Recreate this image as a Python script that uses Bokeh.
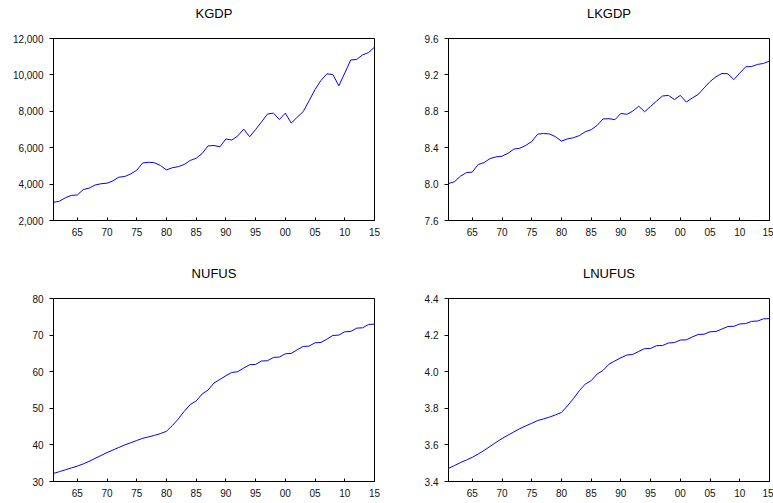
from bokeh.plotting import figure
from bokeh.layouts import gridplot
from bokeh.models import Range1d, FixedTicker, NumeralTickFormatter, LinearAxis
from bokeh.embed import file_html
from bokeh.resources import INLINE

years = list(range(1961, 2016))

kgdp = [3000, 3060, 3250, 3380, 3400, 3700, 3780, 3950, 4020, 4050,
        4180, 4380, 4420, 4560, 4760, 5160, 5200, 5170, 5020, 4780,
        4900, 4960, 5080, 5300, 5420, 5680, 6100, 6120, 6050, 6480,
        6420, 6650, 7020, 6600, 7000, 7420, 7850, 7900, 7550, 7900,
        7350, 7680, 7980, 8580, 9200, 9700, 10060, 10020, 9400, 10100,
        10820, 10850, 11100, 11230, 11520]

lkgdp = [8.006, 8.026, 8.086, 8.126, 8.132, 8.216, 8.237, 8.281, 8.299, 8.306,
         8.338, 8.385, 8.394, 8.425, 8.468, 8.549, 8.556, 8.551, 8.521, 8.472,
         8.497, 8.509, 8.533, 8.575, 8.598, 8.645, 8.716, 8.719, 8.708, 8.777,
         8.767, 8.802, 8.856, 8.795, 8.854, 8.912, 8.968, 8.975, 8.929, 8.975,
         8.902, 8.946, 8.985, 9.057, 9.127, 9.180, 9.216, 9.212, 9.148, 9.220,
         9.289, 9.292, 9.315, 9.326, 9.352]

nufus = [32.2, 32.7, 33.2, 33.7, 34.2, 34.8, 35.5, 36.3, 37.1, 37.9,
         38.6, 39.3, 40.0, 40.6, 41.2, 41.8, 42.2, 42.6, 43.1, 43.7,
         45.3, 47.1, 49.2, 51.0, 52.0, 53.9, 55.0, 56.9, 57.9, 58.9,
         59.8, 60.0, 61.0, 61.9, 62.0, 62.9, 63.0, 63.9, 64.0, 64.9,
         65.0, 66.0, 66.9, 67.0, 67.9, 68.0, 68.9, 69.9, 70.0, 70.9,
         71.0, 71.9, 72.0, 72.9, 73.0]

lnufus = [3.472, 3.487, 3.503, 3.517, 3.532, 3.550, 3.570, 3.592, 3.614, 3.635,
          3.653, 3.671, 3.689, 3.704, 3.718, 3.733, 3.742, 3.752, 3.764, 3.777,
          3.813, 3.852, 3.896, 3.932, 3.951, 3.987, 4.007, 4.041, 4.059, 4.076,
          4.091, 4.094, 4.111, 4.126, 4.127, 4.142, 4.143, 4.157, 4.159, 4.173,
          4.174, 4.190, 4.203, 4.205, 4.218, 4.220, 4.233, 4.247, 4.248, 4.261,
          4.263, 4.275, 4.277, 4.289, 4.290]

x_ticks = [1965, 1970, 1975, 1980, 1985, 1990, 1995, 2000, 2005, 2010, 2015]
x_tick_labels = ["65", "70", "75", "80", "85", "90", "95", "00", "05", "10", "15"]

kgdp_ticks = [2000, 4000, 6000, 8000, 10000, 12000]
lkgdp_ticks = [7.6, 8.0, 8.4, 8.8, 9.2, 9.6]
nufus_ticks = [30, 40, 50, 60, 70, 80]
lnufus_ticks = [3.4, 3.6, 3.8, 4.0, 4.2, 4.4]

FONT = "Liberation Sans"


def make_panel(title, ys, yticks, fmt, width, height, bl, br, bt, bb):
    p = figure(width=width, height=height, output_backend="svg",
               toolbar_location=None,
               x_range=Range1d(years[0], years[-1]),
               y_range=Range1d(yticks[0], yticks[-1]),
               min_border_left=bl, min_border_right=br,
               min_border_top=bt, min_border_bottom=bb)
    p.line(years, ys, line_color="#0000FF", line_width=1)

    p.xgrid.visible = False
    p.ygrid.visible = False
    p.outline_line_color = "#000000"
    p.outline_line_width = 1
    p.outline_line_alpha = 1
    p.background_fill_color = "white"
    p.border_fill_color = "white"

    xa = p.below[0]
    xa.ticker = FixedTicker(ticks=x_ticks)
    xa.major_label_overrides = {t: l for t, l in zip(x_ticks, x_tick_labels)}
    xa.major_tick_in = 3
    xa.major_tick_out = 0
    xa.minor_tick_line_color = None
    xa.major_label_standoff = 7
    xa.axis_line_color = "#000000"
    xa.major_tick_line_color = "#000000"
    xa.major_label_text_font = FONT
    xa.major_label_text_font_size = "10px"
    xa.major_label_text_color = "#111111"

    ya = p.left[0]
    ya.ticker = FixedTicker(ticks=yticks)
    ya.formatter = NumeralTickFormatter(format=fmt)
    ya.major_tick_in = 0
    ya.major_tick_out = 4
    ya.minor_tick_line_color = None
    ya.major_label_standoff = 6
    ya.axis_line_color = "#000000"
    ya.major_tick_line_color = "#000000"
    ya.major_label_text_font = FONT
    ya.major_label_text_font_size = "10px"
    ya.major_label_text_color = "#111111"

    # title drawn as the label of an empty top axis, centred on the frame
    top = LinearAxis(ticker=FixedTicker(ticks=[]), axis_label=title,
                     axis_label_standoff=18,
                     axis_label_text_font=FONT,
                     axis_label_text_font_size="13px",
                     axis_label_text_font_style="normal",
                     axis_label_text_color="#000000",
                     axis_line_color=None, major_tick_line_color=None,
                     minor_tick_line_color=None,
                     major_tick_in=0, major_tick_out=0,
                     major_label_standoff=0,
                     major_label_text_font_size="0px")
    p.add_layout(top, "above")
    return p


p1 = make_panel("KGDP", kgdp, kgdp_ticks, "0,0", 390, 250, 53, 16, 38, 30)
p2 = make_panel("LKGDP", lkgdp, lkgdp_ticks, "0.0", 383, 250, 58, 4, 38, 30)
p3 = make_panel("NUFUS", nufus, nufus_ticks, "0", 390, 253, 53, 16, 48, 22)
p4 = make_panel("LNUFUS", lnufus, lnufus_ticks, "0.0", 383, 253, 58, 4, 48, 22)

grid = gridplot([[p1, p2], [p3, p4]], toolbar_location=None)

open("out.html", "w").write(file_html(grid, INLINE))
